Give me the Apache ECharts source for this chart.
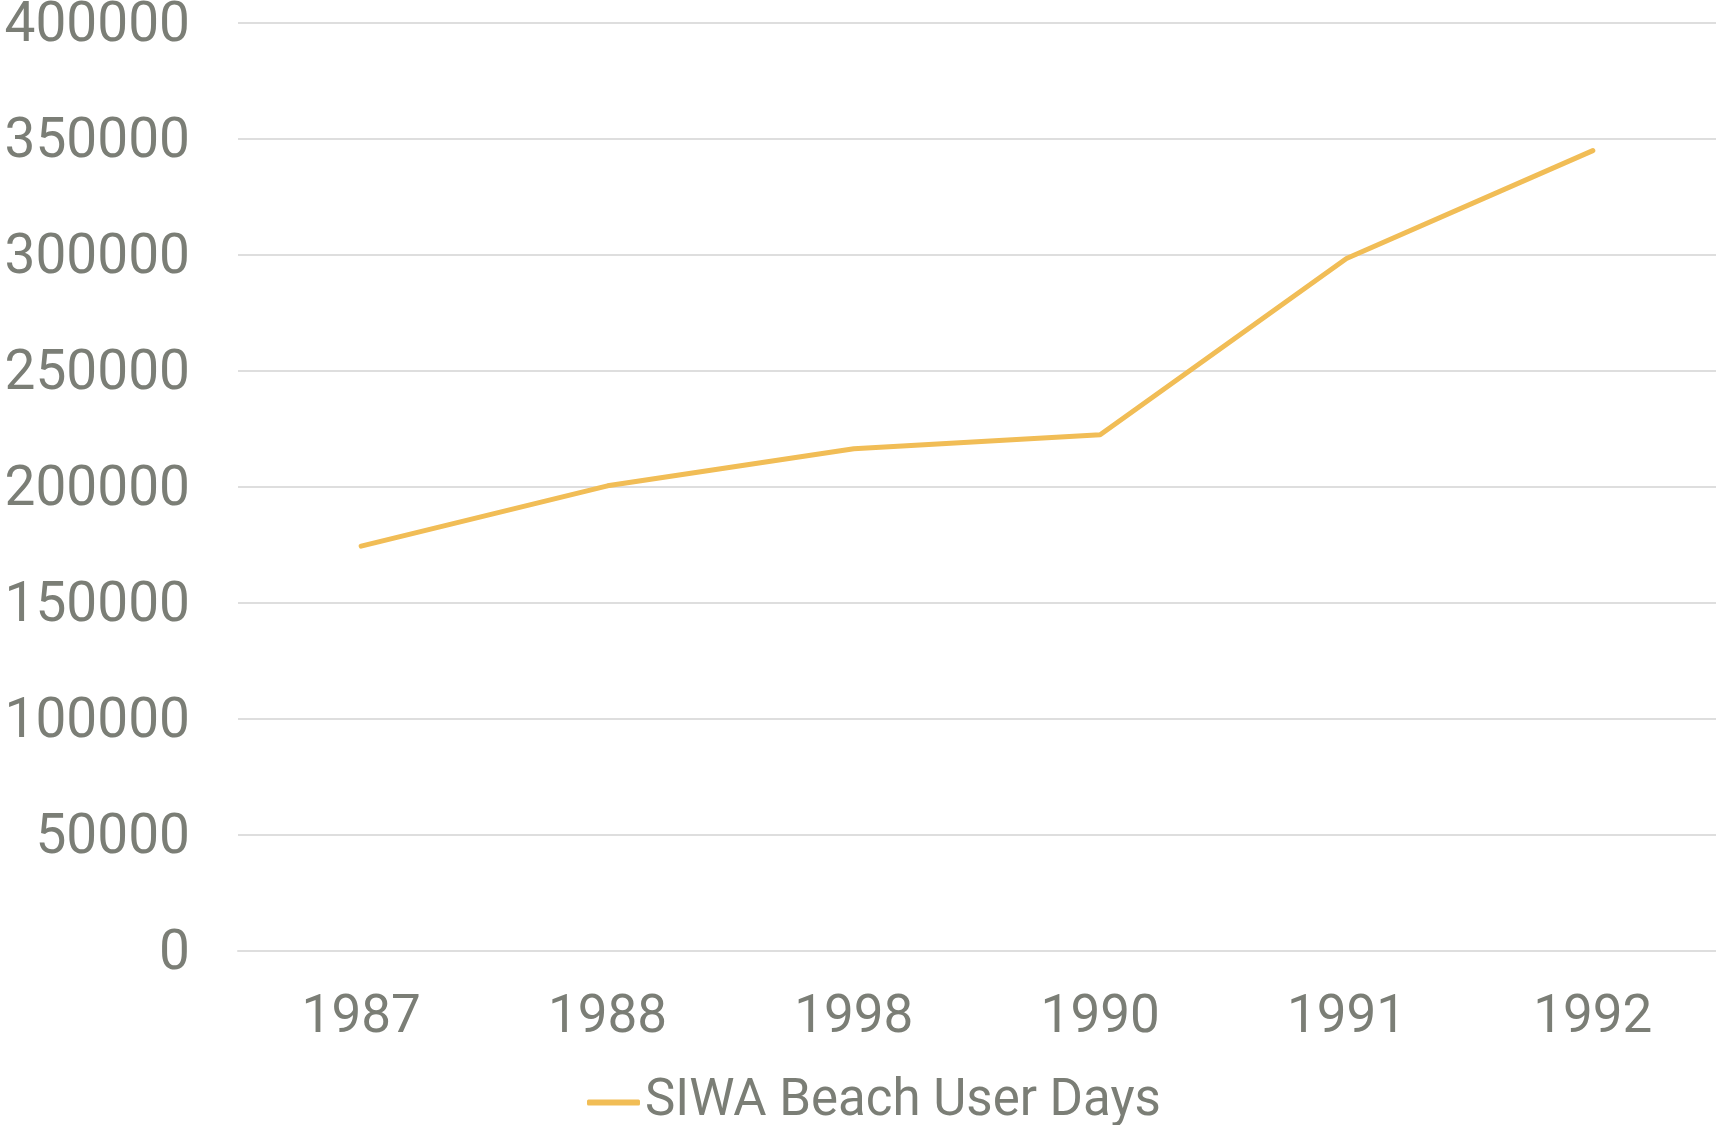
<!DOCTYPE html>
<html lang="en">
<head>
    <meta charset="UTF-8">
    <title>SIWA Beach User Days</title>
    <script src="https://cdn.jsdelivr.net/npm/echarts@6/dist/echarts.min.js"></script>
    <style>
        html, body { margin: 0; padding: 0; background: #fff; }
        #main { width: 1716px; height: 1125px; }
    </style>
</head>
<body>
<div id="main"></div>
<script type="text/javascript">
    // years as printed on the chart (1998 really does sit between 1988 and 1990)
    var years = ['1987', '1988', '1998', '1990', '1991', '1992'];
    var userDays = [174500, 200500, 216500, 222500, 298500, 345000];
    var seriesName = 'SIWA Beach User Days';

    var textColor = '#7b7e76';
    var lineColor = '#f1bd56';

    var myChart = echarts.init(document.getElementById('main'));
    var option = {
        animation: false,
        grid: {
            left: 238,
            right: 0,
            top: 23,
            bottom: 174,
            outerBoundsMode: 'none'
        },
        legend: {
            data: [{ name: seriesName, icon: 'roundRect' }],
            left: 582,
            top: 1072,
            itemWidth: 53,
            itemHeight: 6,
            textStyle: {
                color: textColor,
                fontFamily: 'Roboto',
                fontSize: 51
            }
        },
        xAxis: {
            type: 'category',
            data: years,
            boundaryGap: true,
            axisTick: { show: false },
            axisLine: {
                lineStyle: { color: '#dedede', width: 2 }
            },
            axisLabel: {
                color: textColor,
                fontFamily: 'Roboto',
                fontSize: 53,
                margin: 41
            }
        },
        yAxis: {
            type: 'value',
            min: 0,
            max: 400000,
            interval: 50000,
            axisLine: { show: false },
            axisTick: { show: false },
            splitLine: {
                lineStyle: { color: '#dedede', width: 2 }
            },
            axisLabel: {
                color: textColor,
                fontFamily: 'Roboto',
                fontSize: 55,
                margin: 48,
                formatter: function (v) { return '{n|' + v + '}'; },
                rich: {
                    n: {
                        color: textColor,
                        fontFamily: 'Roboto',
                        fontSize: 55,
                        padding: [8, 0, 0, 0]
                    }
                }
            }
        },
        series: [
            {
                name: seriesName,
                type: 'line',
                data: userDays,
                symbol: 'none',
                lineStyle: {
                    color: lineColor,
                    width: 5,
                    cap: 'round'
                },
                itemStyle: { color: lineColor }
            }
        ]
    };
    myChart.setOption(option);
</script>
</body>
</html>
